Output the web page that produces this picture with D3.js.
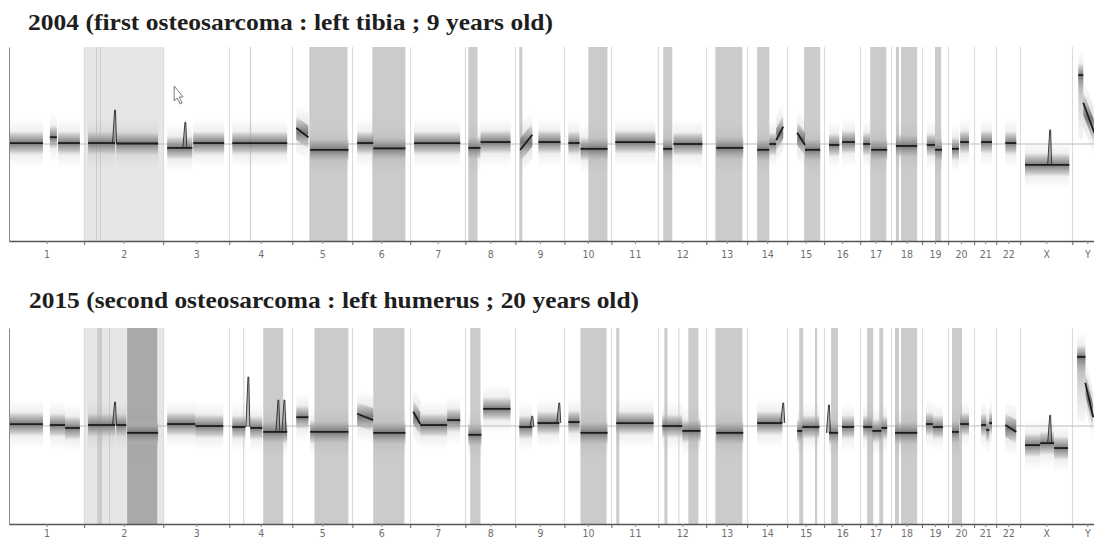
<!DOCTYPE html>
<html>
<head>
<meta charset="utf-8">
<script src="https://cdn.jsdelivr.net/npm/d3@7"></script>
<style>
  html, body { margin: 0; padding: 0; background: #fff; }
  svg { display: block; }
</style>
</head>
<body>
<script>
// ---------------- DATA ----------------
const chromosomes = ["1","2","3","4","5","6","7","8","9","10","11","12","13","14","15","16","17","18","19","20","21","22","X","Y"];
// relative chromosome lengths (Mb-like units)
const chromLengths = [248,261,218,208,198,191,182,165,162,155,155,158,135,132,122,119,102,102,86,86,73,79,172,99];

const panelTitles = [
  "2004 (first osteosarcoma : left tibia ; 9 years old)",
  "2015 (second osteosarcoma : left humerus ; 20 years old)"
];

// segments: [chromosome, start, end, log2 value at start, log2 value at end (optional)]
const segments2004 = [
  ["1",0,112,0.02],["1",135,158,0.14],["1",162,234,0.02],
  ["2",13,102,0.02],["2",106,244,0.01],
  ["3",13,96,-0.08],["3",99,201,0.02],
  ["4",10,191,0.02],
  ["5",13,53,0.33,0.14],["5",59,185,-0.12],
  ["6",16,69,0.02],["6",69,175,-0.09],
  ["7",13,165,0.02],
  ["8",10,50,-0.08],["8",50,149,0.04],
  ["9",16,56,-0.12,0.19],["9",76,149,0.04],
  ["10",13,50,0.02],["10",53,142,-0.10],
  ["11",13,145,0.04],
  ["12",16,46,-0.10],["12",50,145,0.0],
  ["13",33,122,-0.08],
  ["14",33,73,-0.12],["14",73,96,0.0],["14",96,119,0.08,0.36],
  ["15",33,59,0.23,-0.02],["15",59,109,-0.12],
  ["16",16,50,-0.02],["16",59,102,0.04],
  ["17",10,33,0.0],["17",36,89,-0.12],
  ["18",16,86,-0.04],
  ["19",16,43,-0.02],["19",43,66,-0.12],
  ["20",13,36,-0.10],["20",40,69,0.04],
  ["21",23,59,0.04],
  ["22",30,66,0.02],
  ["X",16,162,-0.43],
  ["Y",20,36,1.42],["Y",36,73,0.85,0.23]
];
const segments2015 = [
  ["1",0,112,0.04],["1",135,185,0.02],["1",185,234,-0.04],
  ["2",13,102,0.02],["2",106,139,0.02],["2",142,244,-0.14],
  ["3",13,106,0.04],["3",106,198,0.0],
  ["4",10,53,-0.02],["4",69,109,-0.04],["4",112,191,-0.12],
  ["5",13,53,0.18],["5",59,185,-0.12],
  ["6",16,69,0.25,0.12],["6",69,175,-0.14],
  ["7",10,33,0.29,0.04],["7",33,122,0.02],["7",122,165,0.12],
  ["8",10,53,-0.18],["8",59,149,0.35],
  ["9",13,56,-0.02],["9",73,145,0.06],
  ["10",13,50,0.08],["10",53,142,-0.14],
  ["11",16,139,0.06],
  ["12",13,79,0.0],["12",79,139,-0.10],
  ["13",33,122,-0.14],
  ["14",33,116,0.06],
  ["15",33,50,-0.10],["15",50,106,-0.02],
  ["16",16,46,-0.14],["16",59,99,-0.02],
  ["17",10,40,-0.02],["17",40,70,-0.10],["17",70,89,-0.04],
  ["18",13,86,-0.14],
  ["19",13,36,0.04],["19",36,69,-0.02],
  ["20",13,36,-0.12],["20",40,69,0.04],
  ["21",23,40,0.02],["21",40,50,-0.08],["21",50,59,0.06],
  ["22",30,66,0.02,-0.12],
  ["X",16,66,-0.39],["X",66,112,-0.35],["X",112,158,-0.45],
  ["Y",16,43,1.41],["Y",43,69,0.88,0.18]
];

// narrow spikes: [chromosome, position, base value, peak value]
const spikes2004 = [["2",102,0.02,0.70],["X",99,-0.43,0.29],["3",73,-0.08,0.45]];
const spikes2015 = [["2",102,0.02,0.49],["4",63,-0.02,1.0],["4",162,-0.12,0.53],["4",182,-0.12,0.53],
                    ["9",145,0.06,0.47],["14",119,0.06,0.47],["16",16,-0.14,0.43],["X",99,-0.35,0.22],["9",56,-0.02,0.2]];

// vertical scatter columns (no segment line): [chromosome, start, end, low value, high value]
const scatter2004 = [["Y",20,36,0.1,1.45]];
const scatter2015 = [["Y",16,43,0.1,1.45]];

// shaded regions: [chromosome, start, end, tone]
const shades2004 = [
  ["2",0,261,"light"],["2",39,42,"mid"],["2",52,55,"mid"],
  ["4",68,72,"line"],
  ["5",56,182,"mid"],["6",66,175,"mid"],["8",10,40,"mid"],["9",13,23,"mid"],
  ["10",79,142,"mid"],["12",16,46,"mid"],["13",30,119,"mid"],["14",33,73,"mid"],
  ["15",56,109,"mid"],["17",33,86,"mid"],["18",16,26,"mid"],["18",33,86,"mid"],["19",43,63,"mid"]
];
const shades2015 = [
  ["2",0,261,"light"],["2",43,59,"mid"],["2",82,85,"mid"],["2",142,241,"dark"],
  ["4",46,49,"line"],["4",112,178,"mid"],
  ["5",73,185,"mid"],["6",69,172,"mid"],["8",16,50,"mid"],["10",53,139,"mid"],
  ["11",16,26,"mid"],["12",20,30,"mid"],["12",66,69,"line"],["12",99,132,"mid"],
  ["13",30,119,"mid"],["15",40,53,"mid"],["15",92,99,"mid"],["16",23,46,"mid"],
  ["17",23,43,"mid"],["17",63,76,"mid"],["18",13,26,"mid"],["18",33,86,"mid"],["20",13,46,"mid"]
];

// ---------------- DRAWING ----------------
const W = 1094, H = 542;
const svg = d3.select("body").append("svg").attr("width", W).attr("height", H);
const defs = svg.append("defs");
const grad = defs.append("linearGradient").attr("id","cloud").attr("x1",0).attr("y1",0).attr("x2",0).attr("y2",1);
[[0,"#bdbdbd",0.05],[0.15,"#a8a8a8",0.55],[0.35,"#8a8a8a",0.8],[0.5,"#6e6e6e",0.9],[0.65,"#8a8a8a",0.8],[0.85,"#a8a8a8",0.55],[1,"#bdbdbd",0.05]]
  .forEach(s => grad.append("stop").attr("offset", s[0]).attr("stop-color", s[1]).attr("stop-opacity", s[2]));
const halo = defs.append("linearGradient").attr("id","halo").attr("x1",0).attr("y1",0).attr("x2",0).attr("y2",1);
[[0,0],[0.5,0.3],[1,0]].forEach(s => halo.append("stop").attr("offset", s[0]).attr("stop-color","#9a9a9a").attr("stop-opacity", s[1]));
const colGrad = defs.append("linearGradient").attr("id","col").attr("x1",0).attr("y1",0).attr("x2",0).attr("y2",1);
[[0,"#444",0.7],[0.25,"#888",0.5],[1,"#aaa",0.1]].forEach(s => colGrad.append("stop").attr("offset", s[0]).attr("stop-color", s[1]).attr("stop-opacity", s[2]));

const starts = {};
let acc = 0;
chromosomes.forEach((c, i) => { starts[c] = acc; acc += chromLengths[i]; });
const total = acc;
const x = d3.scaleLinear().domain([0, total]).range([9, 1102.3]);
const gx = (c, p) => x(starts[c] + p);

const boundaries = chromosomes.map(c => starts[c]).concat([total]);
const centers = chromosomes.map((c, i) => starts[c] + chromLengths[i] / 2);

const toneFill = { light: "#e6e6e6", mid: "#cbcbcb", dark: "#a9a9a9", line: "#d2d2d2" };
const serifStack = "'Liberation Serif', 'Times New Roman', Tinos, 'Nimbus Roman', 'Nimbus Roman No9 L', Times, 'DejaVu Serif', serif";

function drawPanel(cfg) {
  const y = d3.scaleLinear().domain([-2, 2]).range([cfg.bottom, cfg.top]);
  const g = svg.append("g");
  const clipId = "clip" + cfg.id;
  defs.append("clipPath").attr("id", clipId).append("rect")
    .attr("x", 9).attr("y", cfg.top).attr("width", W - 9).attr("height", cfg.bottom - cfg.top);
  const plot = g.append("g").attr("clip-path", `url(#${clipId})`);

  // title
  g.append("text").attr("x", cfg.titleX).attr("y", cfg.titleY)
    .style("font-family", serifStack)
    .style("font-weight", "bold").style("font-size", cfg.titleSize + "px").attr("fill", "#1e1e1e")
    .attr("textLength", cfg.titleWidth).attr("lengthAdjust", "spacingAndGlyphs")
    .text(cfg.title);

  // shaded regions
  plot.selectAll("rect.shade").data(cfg.shades).join("rect").attr("class","shade")
    .attr("x", d => gx(d[0], d[1]))
    .attr("width", d => Math.max(1, gx(d[0], d[2]) - gx(d[0], d[1])))
    .attr("y", cfg.top).attr("height", cfg.bottom - cfg.top)
    .attr("fill", d => toneFill[d[3]]);

  // chromosome boundaries
  plot.selectAll("line.bnd").data(boundaries.slice(1)).join("line").attr("class","bnd")
    .attr("x1", d => Math.round(x(d)) + 0.5).attr("x2", d => Math.round(x(d)) + 0.5)
    .attr("y1", cfg.top).attr("y2", cfg.bottom)
    .attr("stroke", "#dcdcdc").attr("stroke-width", 1.2);

  // baseline
  plot.append("line").attr("x1", 9).attr("x2", W).attr("y1", y(0)).attr("y2", y(0))
    .attr("stroke", "#bdbdbd").attr("stroke-width", 1);

  // scatter columns
  plot.selectAll("rect.col").data(cfg.scatter).join("rect").attr("class","col")
    .attr("x", d => gx(d[0], d[1])).attr("width", d => gx(d[0], d[2]) - gx(d[0], d[1]))
    .attr("y", d => y(d[4])).attr("height", d => y(d[3]) - y(d[4]))
    .attr("fill", "url(#col)");

  const bandPath = (d, h) => {
    const v0 = d[3], v1 = d.length > 4 ? d[4] : d[3];
    const x0 = gx(d[0], d[1]), x1 = gx(d[0], d[2]);
    const hp = y(0) - y(h);
    return `M${x0},${y(v0) - hp}L${x1},${y(v1) - hp}L${x1},${y(v1) + hp}L${x0},${y(v0) + hp}Z`;
  };

  // halo of outliers
  plot.selectAll("path.halo").data(cfg.segments).join("path").attr("class","halo")
    .attr("d", d => bandPath(d, 0.5)).attr("fill", "url(#halo)");
  // dense cloud
  plot.selectAll("path.cloud").data(cfg.segments).join("path").attr("class","cloud")
    .attr("d", d => bandPath(d, 0.24)).attr("fill", "url(#cloud)");

  // spikes
  plot.selectAll("path.spike").data(cfg.spikes).join("path").attr("class","spike")
    .attr("d", d => {
      const px = gx(d[0], d[1]);
      return `M${px - 2.5},${y(d[2])}L${px - 0.4},${y(d[3])}L${px + 0.4},${y(d[3])}L${px + 1.5},${y(d[2])}`;
    })
    .attr("fill", "#777").attr("fill-opacity", 0.5).attr("stroke", "#2a2a2a").attr("stroke-width", 0.9);

  // segment lines
  plot.selectAll("line.seg").data(cfg.segments).join("line").attr("class","seg")
    .attr("x1", d => gx(d[0], d[1])).attr("x2", d => gx(d[0], d[2]))
    .attr("y1", d => y(d[3])).attr("y2", d => y(d.length > 4 ? d[4] : d[3]))
    .attr("stroke", "#1c1c1c").attr("stroke-width", 1.8);

  // left axis
  const yAxis = g.append("g").attr("transform", `translate(9,0)`)
    .call(d3.axisLeft(y).tickValues([]).tickSizeOuter(0));
  yAxis.select(".domain").attr("stroke", "#8a8a8a");

  // bottom axis: boundary ticks
  const xb = g.append("g").attr("transform", `translate(0,${cfg.bottom})`)
    .call(d3.axisBottom(x).tickValues(boundaries.slice(1, -1)).tickFormat("").tickSize(4).tickSizeOuter(0));
  xb.select(".domain").attr("stroke", "#555").attr("stroke-width", 1.3);
  xb.selectAll(".tick line").attr("stroke", "#666");
  // center ticks + labels
  const xc = g.append("g").attr("transform", `translate(0,${cfg.bottom})`)
    .call(d3.axisBottom(x).tickValues(centers).tickFormat((d, i) => chromosomes[i]).tickSize(3).tickPadding(cfg.labelPad).tickSizeOuter(0));
  xc.select(".domain").remove();
  xc.selectAll(".tick line").attr("stroke", "#888");
  xc.selectAll(".tick text")
    .style("font-family", "'DejaVu Sans Condensed', 'Liberation Sans Narrow', 'DejaVu Sans', sans-serif")
    .style("font-stretch", "condensed")
    .style("font-size", "10.5px").attr("fill", "#6e6e6e");
}

drawPanel({ id: 1, title: panelTitles[0], titleX: 28, titleY: 30, titleSize: 23, titleWidth: 525, labelPad: 7,
  top: 47, bottom: 241, segments: segments2004, spikes: spikes2004, scatter: scatter2004, shades: shades2004 });
drawPanel({ id: 2, title: panelTitles[1], titleX: 29, titleY: 308, titleSize: 23, titleWidth: 610, labelPad: 3,
  top: 328, bottom: 524, segments: segments2015, spikes: spikes2015, scatter: scatter2015, shades: shades2015 });

// mouse pointer visible in the first panel
const pointerPos = [gx("3", 36), 86];
svg.append("path")
  .attr("transform", `translate(${pointerPos[0]},${pointerPos[1]})`)
  .attr("d", "M0,0L0,15L3,12L6,18L8,17L5,11L9,11Z")
  .attr("fill", "#fff").attr("stroke", "#7a7a7a").attr("stroke-width", 1);
</script>
</body>
</html>
